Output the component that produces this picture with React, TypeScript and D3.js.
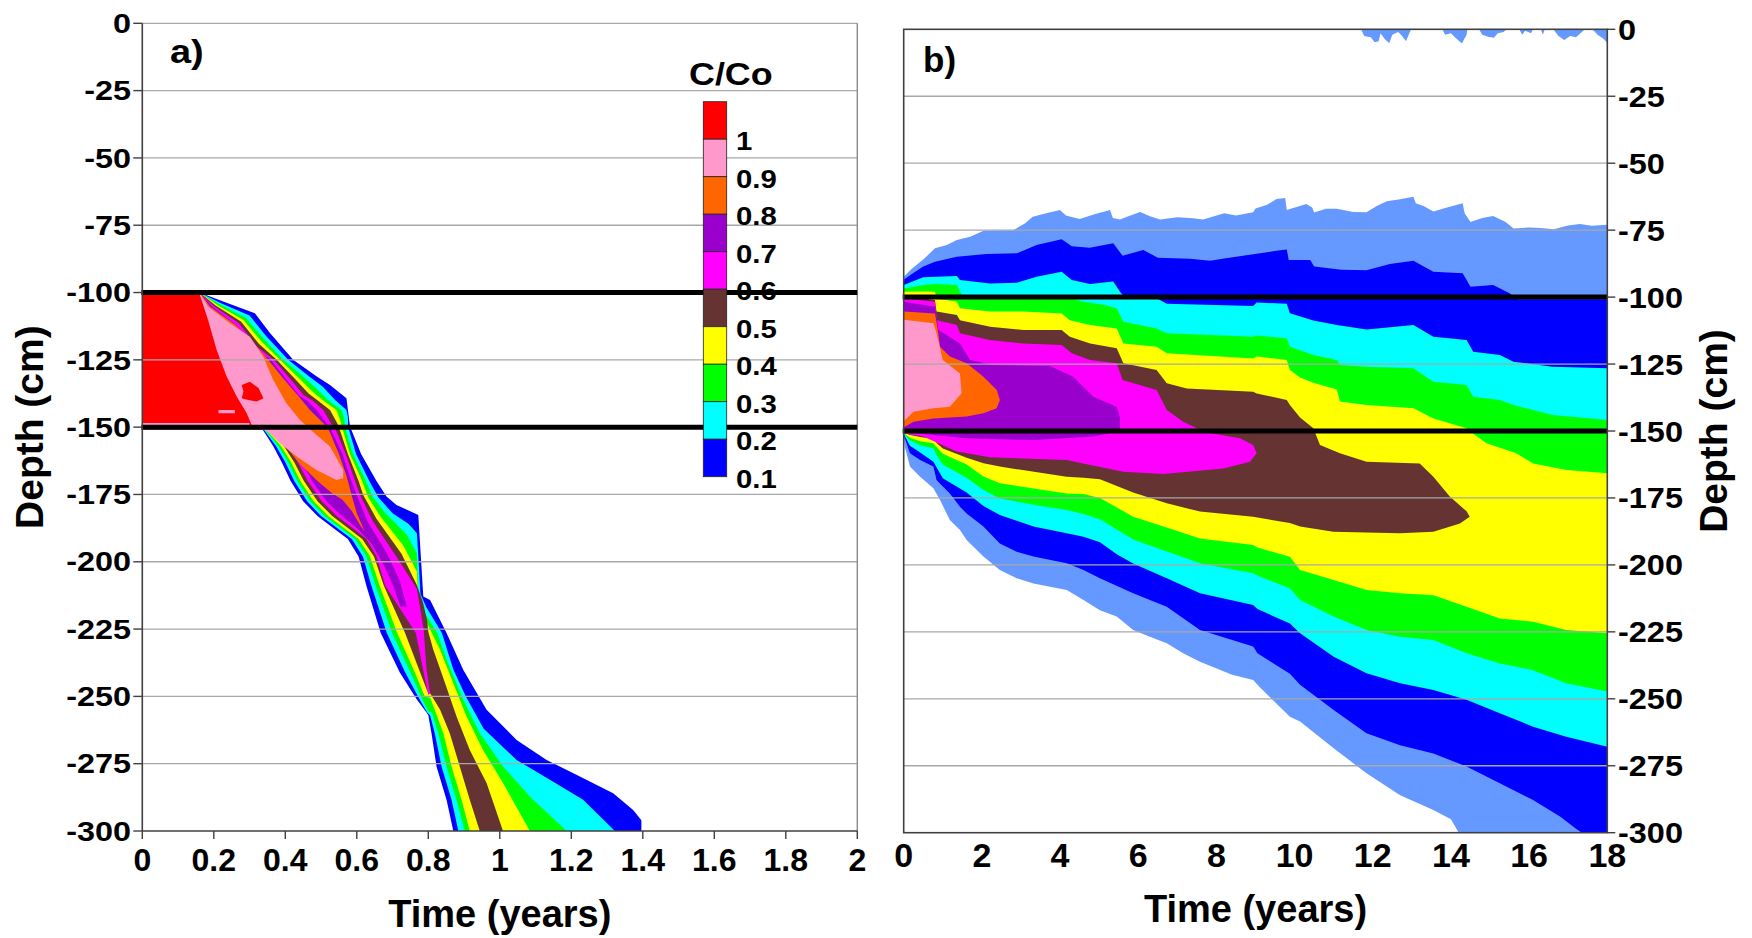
import React from "react";
import * as d3 from "d3";

// ---------- legend / ticks ----------
const LEGEND_LABELS = ["1", "0.9", "0.8", "0.7", "0.6", "0.5", "0.4", "0.3", "0.2", "0.1"];
const Y_TICKS = [0, -25, -50, -75, -100, -125, -150, -175, -200, -225, -250, -275, -300];
const A_X_TICKS = [0, 0.2, 0.4, 0.6, 0.8, 1, 1.2, 1.4, 1.6, 1.8, 2];
const B_X_TICKS = [0, 2, 4, 6, 8, 10, 12, 14, 16, 18];
const LAYER_BOUNDS = [-100, -150];

// ---------- panel a contour regions: [time (years), depth (cm)] ----------
const A_BLUE = [[0,-100],[0.16,-100],[0.23,-103.5],[0.315,-107.7],[0.357,-115],[0.422,-125],[0.488,-131.2],[0.525,-134.3],[0.571,-139.3],[0.581,-149.8],[0.612,-160],[0.655,-170],[0.683,-175.8],[0.711,-178.9],[0.772,-182.6],[0.78,-200],[0.786,-212.9],[0.805,-214.2],[0.851,-226.5],[0.898,-240.2],[0.963,-255],[1.047,-266.2],[1.131,-273.6],[1.224,-279.8],[1.317,-286],[1.373,-292.2],[1.396,-296],[1.396,-300],[0.87,-300],[0.851,-288.4],[0.823,-276],[0.809,-263.7],[0.8,-257],[0.795,-256],[0.767,-251],[0.72,-241],[0.667,-226.5],[0.627,-209],[0.605,-198],[0.575,-191.5],[0.534,-187.5],[0.49,-183],[0.45,-177.5],[0.415,-170],[0.39,-163],[0.366,-157],[0.336,-150.8],[0,-150.8]];
const A_CYAN = [[0,-100],[0.16,-100],[0.22,-104],[0.3,-108.5],[0.345,-116],[0.408,-125],[0.465,-131],[0.505,-135],[0.54,-140],[0.571,-143.6],[0.575,-146],[0.576,-150],[0.598,-160],[0.635,-170],[0.66,-176],[0.7,-182],[0.745,-186],[0.768,-189.4],[0.773,-200],[0.778,-212],[0.795,-217],[0.838,-226.5],[0.87,-240],[0.905,-250],[0.955,-262],[1.047,-273.6],[1.14,-281],[1.233,-288.4],[1.322,-300],[0.884,-300],[0.865,-288.4],[0.837,-276],[0.818,-263.7],[0.805,-257],[0.797,-256],[0.775,-251],[0.735,-241],[0.684,-226.5],[0.641,-209],[0.617,-198],[0.586,-191.5],[0.545,-187.5],[0.5,-183],[0.461,-177.5],[0.425,-170],[0.4,-163],[0.374,-157],[0.339,-150.8],[0,-150.8]];
const A_GREEN = [[0,-100],[0.16,-100],[0.215,-104.3],[0.29,-109.5],[0.338,-117],[0.394,-125],[0.452,-131.5],[0.49,-136],[0.52,-140],[0.557,-143.6],[0.565,-147],[0.567,-150],[0.589,-160],[0.625,-170],[0.645,-176],[0.68,-182],[0.74,-190],[0.768,-196.8],[0.772,-212],[0.79,-219],[0.825,-226.5],[0.851,-236.4],[0.898,-251.3],[0.944,-263.7],[1.009,-276],[1.084,-287.2],[1.187,-300],[0.902,-300],[0.879,-288.4],[0.851,-276],[0.828,-263.7],[0.81,-256],[0.8,-255.5],[0.783,-251],[0.75,-241],[0.699,-226.5],[0.653,-209],[0.627,-198],[0.596,-191.5],[0.555,-187.5],[0.51,-183],[0.47,-177.5],[0.434,-170],[0.408,-163],[0.381,-157],[0.342,-150.8],[0,-150.8]];
const A_YELLOW = [[0,-100],[0.16,-100],[0.21,-104.6],[0.283,-110.2],[0.332,-118],[0.385,-125],[0.44,-132],[0.478,-137],[0.505,-140],[0.543,-143.6],[0.555,-148],[0.559,-150],[0.581,-160],[0.615,-170],[0.632,-176],[0.665,-183],[0.73,-194],[0.768,-203.6],[0.772,-214],[0.79,-221],[0.81,-226.5],[0.833,-232.7],[0.87,-245.1],[0.907,-257.5],[0.953,-269.9],[1.009,-282.2],[1.084,-300],[0.916,-300],[0.893,-288.4],[0.865,-276],[0.842,-263.7],[0.818,-255],[0.805,-250.5],[0.79,-250],[0.762,-241],[0.713,-226.5],[0.664,-209],[0.637,-198],[0.605,-191.5],[0.564,-187.5],[0.52,-183],[0.479,-177.5],[0.442,-170],[0.416,-163],[0.388,-157],[0.345,-150.8],[0,-150.8]];
const A_BROWN = [[0,-100],[0.16,-100],[0.205,-104.8],[0.276,-110.8],[0.326,-119],[0.376,-125],[0.43,-132.5],[0.465,-137.5],[0.49,-140],[0.525,-143.6],[0.545,-148.5],[0.55,-150],[0.575,-160],[0.605,-170],[0.618,-175.2],[0.655,-184],[0.725,-197],[0.768,-208.6],[0.785,-215],[0.797,-222],[0.8,-226],[0.814,-232.7],[0.847,-245.1],[0.879,-257.5],[0.916,-269.9],[0.963,-282.2],[1.009,-300],[0.944,-300],[0.916,-288.4],[0.888,-276],[0.86,-263.7],[0.833,-255],[0.805,-248.8],[0.797,-248],[0.777,-241],[0.735,-226.5],[0.676,-209],[0.648,-198],[0.615,-191.5],[0.575,-187.5],[0.531,-183],[0.49,-177.5],[0.452,-170],[0.425,-163],[0.396,-157],[0.348,-150.8],[0,-150.8]];
const A_MAGENTA = [[0,-100],[0.16,-100],[0.2,-105],[0.27,-111.4],[0.32,-120],[0.368,-125],[0.42,-133],[0.45,-138],[0.475,-140],[0.506,-143.6],[0.53,-149],[0.538,-150],[0.569,-160],[0.595,-170],[0.609,-175.2],[0.645,-185],[0.715,-199],[0.768,-210],[0.787,-225],[0.795,-240],[0.805,-249],[0.8,-249.5],[0.787,-241],[0.765,-226.5],[0.68,-209],[0.655,-198],[0.627,-191.5],[0.588,-187.5],[0.544,-183],[0.502,-177.5],[0.463,-170],[0.435,-163],[0.405,-157],[0.352,-150.8],[0,-150.8]];
const A_PURPLE = [[0,-100],[0.16,-100],[0.195,-105.2],[0.262,-112],[0.314,-121],[0.36,-125],[0.41,-133.5],[0.44,-138.5],[0.46,-140],[0.488,-143.6],[0.52,-149.5],[0.525,-150],[0.56,-160],[0.585,-170],[0.6,-175.2],[0.63,-185],[0.685,-197],[0.72,-207],[0.74,-216.7],[0.722,-216.5],[0.702,-209],[0.675,-201],[0.64,-193],[0.6,-187.5],[0.558,-183],[0.515,-177.5],[0.475,-170],[0.446,-163],[0.415,-157],[0.356,-150.8],[0,-150.8]];
const A_ORANGE = [[0,-100],[0.16,-100],[0.19,-105.3],[0.26,-112],[0.32,-120],[0.352,-125],[0.395,-132],[0.44,-139],[0.469,-143.6],[0.51,-149],[0.52,-150.5],[0.55,-160],[0.571,-168],[0.585,-175],[0.6,-182],[0.622,-188.8],[0.61,-186.5],[0.585,-181],[0.56,-177],[0.53,-174.5],[0.49,-170],[0.44,-163.5],[0.4,-157],[0.37,-150.8],[0,-150.8]];
const A_PINK = [[0,-100],[0.16,-100],[0.184,-105.2],[0.245,-111.4],[0.301,-116.4],[0.338,-123.8],[0.366,-132.4],[0.403,-141.1],[0.441,-147.3],[0.469,-150.8],[0.525,-157.2],[0.562,-165.9],[0.562,-169],[0.543,-169.6],[0.487,-165.9],[0.432,-160.9],[0.385,-156],[0.357,-152.3],[0.339,-150.8],[0,-150.8]];
const A_RED = [[0,-100],[0.161,-100.9],[0.184,-110.2],[0.208,-121.3],[0.236,-131.2],[0.264,-138.6],[0.292,-144.8],[0.306,-149.2],[0.31,-150.3],[0,-150.3]];
const A_RED_BLOB = [[0.278,-134.3],[0.301,-133.1],[0.325,-135.5],[0.339,-139.3],[0.32,-140.5],[0.297,-139.9],[0.278,-139.3],[0.283,-136.8]];
const A_PINK_STREAK_1 = [[0.213,-143.6],[0.259,-143.6],[0.259,-144.8],[0.213,-144.8]];
const A_PINK_STREAK_2 = [[0,-148.5],[0.3,-148.5],[0.3,-149.2],[0,-149.2]];

// ---------- panel b contour regions: [time (years), depth (cm)] ----------
const B_LIGHTBLUE = [[0,-92.4],[0.2,-89.5],[0.5,-86],[0.8,-81.8],[1.1,-80.5],[1.36,-78.7],[1.7,-77.5],[2.04,-75.2],[2.8,-75],[3.1,-72.5],[3.3,-70],[3.7,-68.5],[4,-67.5],[4.15,-69.5],[4.5,-70.8],[4.9,-69],[5.28,-67.5],[5.35,-70.5],[5.53,-71],[5.8,-69.5],[6.05,-68.2],[6.3,-69.8],[6.56,-71],[7,-70.2],[7.4,-70.6],[7.66,-71],[8.2,-68.7],[8.5,-69.5],[8.94,-68.3],[9,-66.9],[9.3,-65.5],[9.54,-63.4],[9.76,-63],[9.8,-67.5],[10.3,-65.2],[10.45,-66.5],[10.5,-68.4],[10.8,-67],[11.08,-67],[11.5,-68.2],[11.84,-68.3],[12.1,-66],[12.36,-64.2],[12.7,-63.5],[13.04,-62.5],[13.1,-65],[13.3,-66],[13.55,-68],[13.9,-66.5],[14.3,-65],[14.35,-68.7],[14.5,-72],[14.8,-70.5],[15.08,-69.7],[15.4,-72],[15.6,-74.4],[16,-74],[16.3,-74.2],[16.63,-74.7],[17,-73.3],[17.3,-72.7],[17.6,-73.4],[18,-73],
  [18,-300],[14.2,-300],[14,-295],[13.55,-291.5],[12.7,-286],[11.84,-277.8],[11,-268.5],[10.14,-258.5],[9.88,-256.7],[9.1,-245.5],[8.94,-243],[8.4,-241],[7.58,-236.2],[7.15,-233],[6.73,-229.3],[6.3,-226.8],[5.87,-224.3],[5.45,-219.3],[5.02,-216.9],[4.6,-213.1],[4.17,-209.4],[3.32,-206.9],[2.89,-205],[2.46,-201.9],[2.04,-196.9],[1.61,-190.7],[1.44,-187],[1.18,-183.2],[0.93,-175.8],[0.76,-171.4],[0.42,-167.1],[0.16,-163.3],[0.03,-156],[0,-152]];
const B_BLUE = [[0,-93.5],[0.2,-91.5],[0.5,-88.6],[0.8,-86.8],[1.36,-84.9],[2.12,-83.9],[2.9,-83.6],[3.4,-80.5],[4.04,-78.4],[4.3,-81],[4.76,-81.6],[5.36,-79.9],[5.6,-84.6],[6.13,-82.4],[6.5,-85.3],[7.32,-85.7],[7.84,-86.4],[8.2,-85.6],[8.99,-83.9],[9.54,-82.7],[9.8,-82.2],[9.85,-86.1],[10.4,-86.1],[10.5,-88.6],[11.2,-89.8],[11.84,-90],[12.44,-87.6],[13.04,-86.4],[13.55,-90.5],[14.3,-91.1],[14.5,-96.1],[15.08,-95.5],[15.5,-98.6],[15.7,-100.8],[18,-100.8],
  [18,-300],[17.35,-300],[17.2,-298.5],[16.8,-294],[16.1,-287.8],[15.25,-281.5],[14.4,-275.3],[13.55,-270.4],[12.7,-267.3],[11.84,-262.9],[11,-254.2],[10.14,-244.8],[9.88,-240.6],[9.05,-233],[8.94,-230.5],[7.58,-224.3],[6.73,-215.6],[5.87,-210.6],[5.02,-205],[4.6,-201.9],[4.17,-199.4],[3.32,-196.9],[2.89,-195.1],[2.46,-192],[2.04,-185.7],[1.61,-180.8],[1.44,-178.3],[1.18,-173.3],[0.84,-168.3],[0.76,-163.3],[0.42,-160.8],[0.16,-158.3],[0,-151.5]];
const B_CYAN = [[0,-95.5],[0.5,-92.6],[1.36,-92.1],[1.44,-93.6],[2.21,-94.9],[2.89,-94.6],[3.4,-92.4],[4.04,-90.5],[4.3,-93.6],[4.77,-95.1],[5.36,-94.2],[5.53,-97.9],[5.62,-99.6],[6.47,-100.4],[6.73,-102.5],[8.94,-103.3],[9.03,-102],[9.8,-102.5],[9.88,-106],[10.48,-108.7],[11.08,-110.4],[11.84,-112.1],[13.04,-110.4],[13.55,-114.8],[14.4,-116],[14.57,-120.4],[15.25,-121.6],[15.6,-124.1],[16.6,-126],[18,-126.6],
  [18,-267.9],[16.95,-264.2],[16.1,-260.4],[15.25,-255.4],[14.4,-250.4],[13.55,-246.7],[12.7,-244.2],[11.84,-240.5],[11,-234.3],[10.14,-225.5],[9.88,-221.9],[9.05,-216.5],[8.94,-215],[7.58,-210.6],[6.73,-205],[5.87,-199.5],[5.45,-196],[5.02,-191.5],[4.6,-189.5],[4.17,-188.2],[3.32,-185.7],[2.46,-181.4],[2.04,-178],[1.61,-173],[1,-167.6],[0.84,-163.5],[0.76,-161.5],[0.42,-158],[0.16,-155.5],[0,-151.1]];
const B_GREEN = [[0,-96.8],[0.5,-95.5],[0.8,-95.1],[1.36,-95.5],[1.44,-98],[1.55,-100.3],[4.25,-100.3],[4.6,-101.7],[5.11,-102.9],[5.45,-104.2],[5.62,-109.2],[6.47,-111.7],[6.73,-113.5],[8.94,-114.8],[9.03,-114.3],[9.8,-115.4],[9.88,-118.5],[10.48,-121.6],[11.08,-123.5],[11.16,-125.4],[11.84,-126],[13.04,-126.6],[13.55,-131.6],[14.4,-132.8],[14.57,-137.2],[15.25,-138.4],[15.6,-140.3],[16.6,-144],[18,-145.9],
  [18,-247.3],[16.95,-244.2],[16.1,-239.3],[15.25,-236.8],[14.4,-233],[13.55,-228],[12.7,-226.8],[11.84,-224.3],[11,-219.3],[10.14,-213.1],[9.88,-208.8],[9.05,-204],[8.94,-203.1],[7.58,-199.4],[6.73,-195],[5.87,-190.5],[5.02,-183],[4.6,-181],[4.17,-179.5],[3.32,-177.5],[2.46,-175.2],[2.04,-172],[1.61,-167.5],[1,-162.5],[0.84,-159],[0.76,-156.5],[0.42,-155.3],[0.16,-153.5],[0,-150.9]];
const B_YELLOW = [[0,-98],[0.5,-97.9],[0.8,-98],[0.85,-100.5],[1.36,-101.7],[1.44,-104.2],[2.21,-105.4],[3.06,-105.4],[4.04,-106.1],[4.25,-108.6],[4.77,-110.4],[5.45,-111.7],[5.62,-117.3],[6.47,-118.5],[6.73,-121],[8.94,-122.9],[9.03,-122.2],[9.8,-123.5],[9.88,-127.2],[10.14,-130],[10.48,-132],[11.08,-134.5],[11.16,-139],[11.84,-140.3],[13.04,-141.5],[13.55,-145.3],[14.4,-149],[14.57,-151],[14.91,-154.6],[15.67,-158.3],[16.1,-162.1],[16.96,-164.6],[18,-165.8],
  [18,-225.5],[16.95,-224.3],[16.1,-221.2],[15.25,-220],[14.4,-215.6],[13.55,-211.3],[12.7,-210.6],[11.84,-209.4],[11,-205.6],[10.14,-201.9],[9.88,-197],[9.05,-193.5],[8.94,-192.6],[7.58,-190.1],[6.73,-186],[5.87,-182],[5.02,-175],[4.6,-173.5],[4.17,-173.3],[3.32,-171.5],[2.46,-169.5],[2.04,-167],[1.61,-162.5],[1,-158.5],[0.84,-156],[0.76,-154.6],[0.42,-153.8],[0.16,-152.5],[0,-150.7]];
const B_BROWN = [[0,-99.5],[0.8,-101.1],[0.84,-105.4],[1.36,-106.7],[1.44,-108.6],[2.21,-111.1],[3.06,-112.3],[4.04,-112.3],[4.25,-114.8],[4.77,-117.3],[5.45,-119.1],[5.62,-124.7],[6.47,-127.2],[6.73,-132.2],[7.24,-134.1],[8.94,-135.3],[9.03,-136],[9.8,-138.4],[9.88,-140.3],[10.14,-145],[10.48,-149],[10.65,-155.2],[11.16,-158.3],[11.84,-161.5],[13.2,-162.1],[13.55,-167.1],[13.97,-174.5],[14.4,-180],[14.48,-182],[14.23,-184.5],[13.55,-187.6],[12.69,-188.2],[10.99,-187.6],[10.14,-185.7],[9.88,-184.4],[8.94,-182],[7.58,-180.1],[6.73,-177],[5.87,-173],[5.02,-168],[4.6,-167.5],[4.17,-167.1],[2.46,-163.3],[2.04,-162],[1.61,-160],[1,-156.5],[0.84,-154.5],[0.76,-153],[0.42,-152.2],[0.16,-151.5],[0,-150.5]];
const B_MAGENTA = [[0,-100.5],[0.8,-101.7],[0.85,-108.6],[1.36,-110.4],[1.44,-113.5],[2.2,-116],[3.06,-117.3],[4.04,-117.9],[4.3,-121],[4.77,-123.5],[5.45,-124.7],[5.6,-131],[6.47,-134.7],[6.73,-142.2],[7.15,-146.5],[7.5,-149],[7.75,-150.6],[8.6,-152.7],[8.94,-155.2],[9.03,-158.3],[8.86,-161.5],[8.18,-164],[6.64,-166.1],[5.62,-165.2],[4.77,-162.7],[4.17,-160.8],[2.21,-159.8],[1.36,-157.7],[0.8,-154],[0.5,-152.1],[0,-150.9]];
const B_PURPLE = [[0,-101.7],[0.8,-103.6],[0.89,-112.3],[1.44,-117.3],[1.7,-123.5],[2.29,-125.4],[3.74,-125.7],[4.34,-129.7],[4.85,-137.2],[5.45,-140.9],[5.53,-145],[5.53,-150],[4.85,-152.1],[3.32,-153.4],[1.61,-152.7],[0.76,-151.5],[0,-150.3]];
const B_ORANGE = [[0,-105.4],[0.8,-106.1],[0.87,-112],[0.93,-118.5],[1.18,-122.2],[1.61,-124.7],[2.04,-129.7],[2.38,-134.7],[2.46,-138.4],[2.38,-141.5],[2.04,-143.4],[1.61,-144.6],[0.76,-145.3],[0.25,-146.5],[0.03,-148.4],[0,-149]];
const B_PINK = [[0,-108.5],[0.76,-109.8],[0.84,-113.5],[1,-123.5],[1.44,-128.5],[1.48,-135.9],[1.18,-140.9],[0.76,-141.5],[0.25,-142.8],[0.03,-145.9],[0,-146.5]];
const B_TOP_BLOBS = [[11.7,0],[11.78,-2.5],[11.95,-3],[12.05,-4.8],[12.15,-4.5],[12.2,-1.5],[12.3,-3.5],[12.42,-5.2],[12.5,-2],[12.65,-1],[12.75,-2.5],[12.85,-4.5],[12.95,-1],[12.98,0],[13.78,0],[13.85,-2],[14,-1.5],[14.1,-3],[14.28,-5.3],[14.4,-2],[14.42,0],[14.72,0],[14.8,-2],[14.95,-2.8],[15.1,-3.2],[15.2,-1.5],[15.35,-1],[15.42,0],[15.75,0],[15.82,-2],[15.9,-0.5],[16.05,-1.5],[16.1,0],[16.3,0],[16.35,-2],[16.4,0],[16.62,0],[16.75,-2.5],[16.9,-4],[17.05,-2.5],[17.2,-3],[17.35,-1],[17.42,0],[17.62,0],[17.75,-2],[17.9,-3.5],[18,-5],[18,0]];

// ---------- styles ----------
const C = {
  red: "#FF0000", pink: "#FF99CC", orange: "#FF6600", purple: "#9900CC", magenta: "#FF00FF",
  brown: "#663333", yellow: "#FFFF00", green: "#00FF00", cyan: "#00FFFF", blue: "#0000FF", light: "#6699FF",
};
const LEGEND_COLORS = [C.red, C.pink, C.orange, C.purple, C.magenta, C.brown, C.yellow, C.green, C.cyan, C.blue];
const FONT = "'Liberation Sans', Arial, Helvetica, sans-serif";
const GRID = "#a8a8a8";
const AXIS = "#404040";

const xa = d3.scaleLinear().domain([0, 2]).range([142.3, 857.3]);
const ya = d3.scaleLinear().domain([0, -300]).range([23.3, 831]);
const xb = d3.scaleLinear().domain([0, 18]).range([903.7, 1607.3]);
const yb = d3.scaleLinear().domain([0, -300]).range([29.3, 832.7]);

const fmt = (v: number) => (v === 0 ? "0" : String(v));

export default function App() {
  const la = d3.line<number[]>().x((p) => xa(p[0])).y((p) => ya(p[1])).curve(d3.curveLinearClosed);
  const lb = d3.line<number[]>().x((p) => xb(p[0])).y((p) => yb(p[1])).curve(d3.curveLinearClosed);

  const aLayers: [number[][], string][] = [
    [A_BLUE, C.blue], [A_CYAN, C.cyan], [A_GREEN, C.green], [A_YELLOW, C.yellow], [A_BROWN, C.brown],
    [A_MAGENTA, C.magenta], [A_PURPLE, C.purple], [A_ORANGE, C.orange], [A_PINK, C.pink], [A_RED, C.red],
    [A_RED_BLOB, C.red], [A_PINK_STREAK_1, C.pink], [A_PINK_STREAK_2, C.pink],
  ];
  const bLayers: [number[][], string][] = [
    [B_LIGHTBLUE, C.light], [B_BLUE, C.blue], [B_CYAN, C.cyan], [B_GREEN, C.green], [B_YELLOW, C.yellow],
    [B_BROWN, C.brown], [B_MAGENTA, C.magenta], [B_PURPLE, C.purple], [B_ORANGE, C.orange], [B_PINK, C.pink],
    [B_TOP_BLOBS, C.light],
  ];

  const [ax0, ax1] = xa.range();
  const [ay0, ay1] = ya.range();
  const [bx0, bx1] = xb.range();
  const [by0, by1] = yb.range();

  const legendTop = 101.7;
  const legendStep = 37.5;

  return (
    <svg
      width={1752}
      height={938}
      style={{ position: "absolute", left: 0, top: 0, background: "#fff" }}
      fontFamily={FONT}
      fontWeight="bold"
    >
      <defs>
        <clipPath id="clipA"><rect x={ax0} y={ay0} width={ax1 - ax0} height={ay1 - ay0} /></clipPath>
        <clipPath id="clipB"><rect x={bx0} y={by0} width={bx1 - bx0} height={by1 - by0} /></clipPath>
      </defs>
      <rect x={0} y={0} width={1752} height={938} fill="#fff" />

      {/* ---------- Panel a ---------- */}
      <g clipPath="url(#clipA)">
        {aLayers.map(([pts, col], i) => (
          <path key={i} d={la(pts) || ""} fill={col} stroke="none" />
        ))}
      </g>
      {Y_TICKS.filter((v) => v !== -300 && !LAYER_BOUNDS.includes(v)).map((v) => (
        <line key={v} x1={ax0} x2={ax1} y1={ya(v)} y2={ya(v)} stroke={GRID} strokeWidth={1.3} />
      ))}
      <line x1={ax1} x2={ax1} y1={ay0} y2={ay1} stroke="#8a8a8a" strokeWidth={1.4} />
      {LAYER_BOUNDS.map((v) => (
        <line key={v} x1={ax0 - 1} x2={ax1} y1={ya(v)} y2={ya(v)} stroke="#000" strokeWidth={5} />
      ))}
      <line x1={ax0} x2={ax0} y1={ay0} y2={ay1} stroke={AXIS} strokeWidth={1.6} />
      <line x1={ax0} x2={ax1} y1={ay1} y2={ay1} stroke={AXIS} strokeWidth={1.6} />
      {Y_TICKS.map((v) => (
        <g key={v}>
          <line x1={ax0 - 9} x2={ax0} y1={ya(v)} y2={ya(v)} stroke={AXIS} strokeWidth={1.4} />
          <text transform={`translate(131,${ya(v) + 9.7}) scale(1.2,1)`} textAnchor="end" fontSize={27}>
            {fmt(v)}
          </text>
        </g>
      ))}
      {A_X_TICKS.map((v) => (
        <g key={v}>
          <line x1={xa(v)} x2={xa(v)} y1={ay1} y2={ay1 + 8} stroke={AXIS} strokeWidth={1.4} />
          <text x={xa(v)} y={870.7} textAnchor="middle" fontSize={32}>{fmt(v)}</text>
        </g>
      ))}
      <text x={(ax0 + ax1) / 2} y={927} textAnchor="middle" fontSize={38}>Time (years)</text>
      <text transform={`translate(43.3,${(ay0 + ay1) / 2}) rotate(-90)`} textAnchor="middle" fontSize={39}>Depth (cm)</text>
      <text transform="translate(170,63.3) scale(1.15,1)" fontSize={33}>a)</text>

      {/* legend */}
      <text transform="translate(689,85) scale(1.12,1)" fontSize={32}>C/Co</text>
      {LEGEND_COLORS.map((col, i) => (
        <rect key={i} x={703.3} y={legendTop + i * legendStep} width={23.4} height={legendStep}
          fill={col} stroke="#222" strokeWidth={0.8} />
      ))}
      {LEGEND_LABELS.map((lab, i) => (
        <text key={lab} transform={`translate(736,${150 + i * legendStep}) scale(1.15,1)`} fontSize={25.5}>{lab}</text>
      ))}

      {/* ---------- Panel b ---------- */}
      <g clipPath="url(#clipB)">
        {bLayers.map(([pts, col], i) => (
          <path key={i} d={lb(pts) || ""} fill={col} stroke="none" />
        ))}
      </g>
      {Y_TICKS.filter((v) => v !== 0 && v !== -300 && !LAYER_BOUNDS.includes(v)).map((v) => (
        <line key={v} x1={bx0} x2={bx1} y1={yb(v)} y2={yb(v)} stroke={GRID} strokeWidth={1.3} />
      ))}
      {LAYER_BOUNDS.map((v) => (
        <line key={v} x1={bx0 - 1} x2={bx1} y1={yb(v)} y2={yb(v)} stroke="#000" strokeWidth={5} />
      ))}
      <rect x={bx0} y={by0} width={bx1 - bx0} height={by1 - by0} fill="none" stroke={AXIS} strokeWidth={1.6} />
      {Y_TICKS.map((v) => (
        <g key={v}>
          <line x1={bx1} x2={bx1 + 8} y1={yb(v)} y2={yb(v)} stroke={AXIS} strokeWidth={1.4} />
          <text transform={`translate(1618,${yb(v) + 10.5}) scale(1.12,1)`} textAnchor="start" fontSize={29}>
            {fmt(v)}
          </text>
        </g>
      ))}
      {B_X_TICKS.map((v) => (
        <text key={v} x={xb(v)} y={866.7} textAnchor="middle" fontSize={34}>{fmt(v)}</text>
      ))}
      <text x={(bx0 + bx1) / 2} y={922} textAnchor="middle" fontSize={38}>Time (years)</text>
      <text transform={`translate(1727,${(by0 + by1) / 2}) rotate(-90)`} textAnchor="middle" fontSize={39}>Depth (cm)</text>
      <text x={923} y={71.7} fontSize={35}>b)</text>
    </svg>
  );
}
